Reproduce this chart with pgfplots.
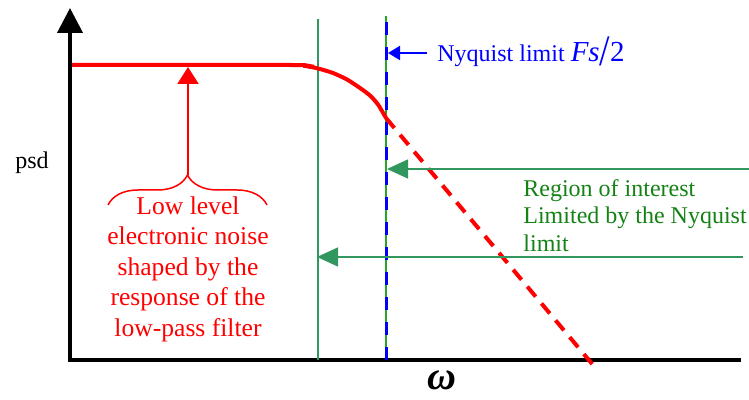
\documentclass[border=0pt]{standalone}
\usepackage{pgfplots}
\pgfplotsset{compat=1.18}
\usepackage{fontspec}
\setmainfont{Liberation Serif}
\usetikzlibrary{arrows.meta,decorations.pathreplacing}

\definecolor{arrgreen}{RGB}{50,150,95}
\definecolor{txtgreen}{RGB}{20,130,20}
\definecolor{lingreen}{RGB}{40,165,40}

% filter response: flat passband, roll-off up to Fs/2
\pgfplotstableread{
x y
72 335
290 335
305 334
318 331.5
333 327
347 320.5
360 312
370 304.5
378 295.5
386 282
}\passband
% extrapolated response beyond the Nyquist limit
\pgfplotstableread{
x y
386 282
593 35
}\stopband

\begin{document}
\begin{tikzpicture}
\begin{axis}[
  at={(0,0)}, anchor=south west,
  hide axis, scale only axis,
  width=374.5pt, height=200pt,
  xmin=0, xmax=749, ymin=0, ymax=400,
  clip=false,
]
% frequency axis
\addplot[black, line width=2pt, forget plot] coordinates {(68,40) (741,40)};
% psd axis with arrow
\addplot[black, line width=2pt, -{Triangle[length=12.5pt,width=12.5pt]}, forget plot]
  coordinates {(70,39) (70,392)};

% band edges
\addplot[arrgreen, line width=0.65pt, forget plot] coordinates {(318,40) (318,381)};
\addplot[lingreen, line width=0.8pt, forget plot] coordinates {(386,40) (386,384)};
\addplot[blue, line width=1.5pt, dash pattern=on 6.5pt off 6pt, forget plot]
  coordinates {(386,40) (386,384)};

% response curves
\addplot[red, line width=2pt, smooth, tension=0.4, forget plot] table[x=x,y=y] {\passband};
\addplot[red, line width=2pt, dash pattern=on 6.5pt off 4.5pt, forget plot]
  table[x=x,y=y] {\stopband};

% Nyquist annotation
\draw[blue, line width=1pt, -{Triangle[length=6pt,width=7pt]}]
  (axis cs:427,347) -- (axis cs:388,347);
\node[anchor=base west, inner sep=0pt, text=blue, font=\fontsize{12}{14}\selectfont]
  at (axis cs:437,338) {Nyquist limit \fontsize{14.5}{14}\selectfont\textit{Fs}\raisebox{-0.12em}{\scalebox{1.3}[1.5]{/}}2};

% region of interest arrows
\draw[arrgreen, line width=0.65pt, -{Triangle[length=10.5pt,width=9.5pt]}]
  (axis cs:752,231) -- (axis cs:387,231);
\draw[arrgreen, line width=0.65pt, -{Triangle[length=10.5pt,width=9.5pt]}]
  (axis cs:743,143) -- (axis cs:317,143);
\node[anchor=north west, inner sep=0pt, align=left, text=txtgreen,
      font=\fontsize{12}{13.75}\selectfont]
  at (axis cs:523,221) {Region of interest\\Limited by the Nyquist\\limit};

% noise annotation
\draw[red, line width=0.75pt, decorate, decoration={brace, amplitude=15pt, aspect=0.5}]
  (axis cs:108,195) -- (axis cs:267,195);
\draw[red, line width=1pt, -{Triangle[length=8.5pt,width=10.5pt]}]
  (axis cs:188,225) -- (axis cs:188,333);
\node[anchor=north, inner sep=0pt, align=center, text=red,
      font=\fontsize{12.8}{15.3}\selectfont]
  at (axis cs:188,204) {Low level\\electronic noise\\shaped by the\\response of the\\low-pass filter};

% axis labels
\node[anchor=base, inner sep=0pt, font=\fontsize{12}{14}\selectfont]
  at (axis cs:32,231) {psd};
\node[anchor=base, inner sep=0pt, font=\fontsize{20}{20}\selectfont]
  at (axis cs:442,10) {\textbf{\textit{ω}}};
\end{axis}
\pgfresetboundingbox
\path (0,0) rectangle (374.5pt,200pt);
\end{tikzpicture}
\end{document}
